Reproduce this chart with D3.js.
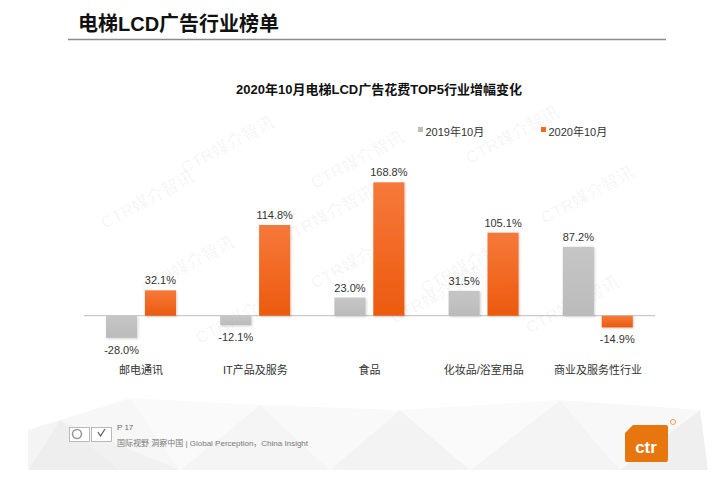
<!DOCTYPE html>
<html><head><meta charset="utf-8">
<script src="https://cdn.jsdelivr.net/npm/d3@7"></script>
<style>
html,body{margin:0;padding:0;background:#fff;}
svg{display:block;font-family:"Liberation Sans",Arial,"Noto Sans CJK SC",sans-serif;}
</style></head>
<body>
<svg id="c" width="725" height="493"></svg>
<script>
const categories = ["邮电通讯","IT产品及服务","食品","化妆品/浴室用品","商业及服务性行业"];
const seriesNames = ["2019年10月","2020年10月"];
const values2019 = [-28.0, -12.1, 23.0, 31.5, 87.2];
const values2020 = [32.1, 114.8, 168.8, 105.1, -14.9];
const valueLabels2019 = ["-28.0%","-12.1%","23.0%","31.5%","87.2%"];
const valueLabels2020 = ["32.1%","114.8%","168.8%","105.1%","-14.9%"];

const svg = d3.select("#c");
const defs = svg.append("defs");
const gO = defs.append("linearGradient").attr("id","gO").attr("x1",0).attr("y1",0).attr("x2",0).attr("y2",1);
gO.append("stop").attr("offset","0%").attr("stop-color","#F6793A");
gO.append("stop").attr("offset","100%").attr("stop-color","#EC5A0E");
const gG = defs.append("linearGradient").attr("id","gG").attr("x1",0).attr("y1",0).attr("x2",0).attr("y2",1);
gG.append("stop").attr("offset","0%").attr("stop-color","#C6C6C6");
gG.append("stop").attr("offset","100%").attr("stop-color","#BBBBBB");
const flt = defs.append("filter").attr("id","sh").attr("x","-20%").attr("y","-20%").attr("width","140%").attr("height","140%");
flt.append("feDropShadow").attr("dx",1).attr("dy",1).attr("stdDeviation",0.8).attr("flood-color","#000").attr("flood-opacity",0.18);

// footer faceted background
const fg = svg.append("g");
const polys = [
  [[28,470],[60,420],[120,470]],
  [[28,470],[28,430],[60,420]],
  [[60,420],[130,398],[180,470]],
  [[120,470],[180,470],[60,420]],
  [[180,470],[260,405],[330,470]],
  [[130,398],[260,405],[180,470]],
  [[330,470],[400,410],[470,470]],
  [[260,405],[400,410],[330,470]],
  [[470,470],[560,400],[620,470]],
  [[400,410],[560,400],[470,470]],
  [[620,470],[700,410],[708,470]],
  [[560,400],[700,410],[620,470]]
];
const fills = ["#eeeeee","#f4f4f4","#f7f7f7","#f1f1f1","#f5f5f5","#fafafa","#f3f3f3","#f9f9f9","#f4f4f4","#fafafa","#efefef","#f8f8f8"];
fg.selectAll("path").data(polys).join("path")
  .attr("d", d => "M" + d.map(p => p.join(",")).join("L") + "Z")
  .attr("fill", (d,i) => fills[i]);

// watermarks
const wm = [[150,205],[190,270],[245,320],[360,165],[360,265],[440,300],[515,140],[470,270],[575,310],[590,200],[330,220],[230,150]];
svg.append("g").selectAll("text").data(wm).join("text")
  .attr("transform", d => `translate(${d[0]},${d[1]}) rotate(-28)`)
  .attr("text-anchor","middle")
  .attr("font-size",17).attr("font-weight","bold")
  .attr("fill","#000").attr("fill-opacity",0.035)
  .text("CTR媒介智讯");

// header
svg.append("text").attr("x",78).attr("y",31).attr("font-size",20).attr("font-weight","bold").attr("fill","#111").text("电梯LCD广告行业榜单");
svg.append("line").attr("x1",68).attr("x2",666).attr("y1",39.5).attr("y2",39.5).attr("stroke","#8c8c8c").attr("stroke-width",1.3);

// title
svg.append("text").attr("x",379).attr("y",94).attr("text-anchor","middle").attr("font-size",13).attr("font-weight","bold").attr("fill","#111")
  .text("2020年10月电梯LCD广告花费TOP5行业增幅变化");

// scales
const x = d3.scaleBand().domain(categories).range([84,655]).paddingInner(0).paddingOuter(0);
const xi = d3.scaleBand().domain(seriesNames).range([22,92]).paddingInner(0.2);
const y = d3.scaleLinear().domain([-50,200]).range([315.7+50*0.79, 315.7-200*0.79]);
const colors = {"2019年10月":"url(#gG)","2020年10月":"url(#gO)"};
const legendColors = {"2019年10月":"#BDBDBD","2020年10月":"#EE6A20"};

// legend
const lx = [418, 541];
const lg = svg.append("g").selectAll("g").data(seriesNames).join("g").attr("transform",(d,i)=>`translate(${lx[i]},127)`);
lg.append("rect").attr("width",5).attr("height",5).attr("fill",d=>legendColors[d]);
lg.append("text").attr("x",7.5).attr("y",8.5).attr("font-size",11).attr("fill","#333").text(d=>d);

// data rows
const rows = [];
categories.forEach((c,i)=>{
  rows.push({c, s:seriesNames[0], v:values2019[i], lab:valueLabels2019[i]});
  rows.push({c, s:seriesNames[1], v:values2020[i], lab:valueLabels2020[i]});
});

// axis line (zero)
const axis = d3.axisBottom(x).tickSize(0).tickFormat("");
const ag = svg.append("g").attr("transform",`translate(0,${y(0)})`).call(axis);
ag.select(".domain").attr("stroke","#bdbdbd").attr("stroke-width",1).attr("d",`M${x.range()[0]},0H${x.range()[1]}`);

// bars
svg.append("g").selectAll("rect").data(rows).join("rect")
  .attr("x", d => x(d.c) + xi(d.s))
  .attr("width", xi.bandwidth())
  .attr("y", d => Math.min(y(d.v), y(0)))
  .attr("height", d => Math.abs(y(d.v) - y(0)))
  .attr("fill", d => colors[d.s])
  .attr("filter","url(#sh)");

// value labels
svg.append("g").selectAll("text").data(rows).join("text")
  .attr("x", d => x(d.c) + xi(d.s) + xi.bandwidth()/2)
  .attr("y", d => d.v >= 0 ? y(d.v) - 6 : y(d.v) + 16)
  .attr("text-anchor","middle").attr("font-size",11).attr("fill","#333")
  .text(d => d.lab);

// category labels
svg.append("g").selectAll("text").data(categories).join("text")
  .attr("x", d => x(d) + x.bandwidth()/2)
  .attr("y", 374)
  .attr("text-anchor","middle").attr("font-size",11).attr("fill","#333")
  .text(d => d);

// footer logos
const lgF = svg.append("g");
lgF.append("rect").attr("x",69.5).attr("y",427.5).attr("width",20).attr("height",14).attr("fill","#fff").attr("stroke","#aaa").attr("stroke-width",0.8);
lgF.append("circle").attr("cx",77).attr("cy",434).attr("r",4.5).attr("fill","none").attr("stroke","#999").attr("stroke-width",1.6);
lgF.append("rect").attr("x",91.5).attr("y",427.5).attr("width",20).attr("height",14).attr("fill","#fff").attr("stroke","#aaa").attr("stroke-width",0.8);
lgF.append("path").attr("d","M98,432 L100.5,436 L105,429").attr("fill","none").attr("stroke","#666").attr("stroke-width",1.3);
svg.append("text").attr("x",117).attr("y",430).attr("font-size",8).attr("fill","#666").text("P 17");
svg.append("text").attr("x",117).attr("y",446).attr("font-size",8).attr("fill","#777").text("国际视野  洞察中国 |  Global Perception，China Insight");

// ctr logo
svg.append("path").attr("d","M633,425 H666 Q668,425 668,427 V460 Q668,462 666,462 H627 Q625,462 625,460 V433 Z").attr("fill","#E8760F");
svg.append("text").attr("x",646).attr("y",453).attr("text-anchor","middle").attr("font-size",17).attr("font-weight","bold").attr("fill","#fff").text("ctr");
svg.append("circle").attr("cx",673).attr("cy",422).attr("r",2.5).attr("fill","none").attr("stroke","#E8760F").attr("stroke-width",0.7);
</script>
</body></html>
